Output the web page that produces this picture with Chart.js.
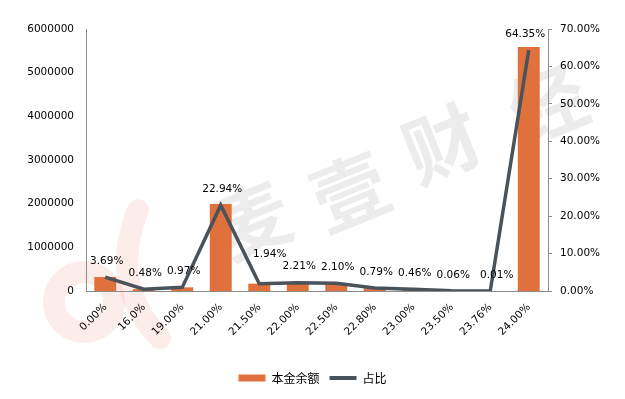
<!DOCTYPE html>
<html>
<head>
<meta charset="utf-8">
<script src="https://cdn.jsdelivr.net/npm/chart.js@4/dist/chart.umd.min.js"></script>
<style>
  html, body { margin: 0; padding: 0; background: #ffffff; }
  #wrap { width: 625px; height: 399px; position: relative; }
</style>
</head>
<body>
<div id="wrap"><canvas id="c" width="625" height="399"></canvas></div>
<script>
// ---- data ----
const categories = ['0.00%', '16.0%', '19.00%', '21.00%', '21.50%', '22.00%', '22.50%', '22.80%', '23.00%', '23.50%', '23.76%', '24.00%'];
const principal = [320000, 41600, 84000, 1990000, 168000, 192000, 182000, 68500, 40000, 5200, 870, 5585000];
const share = [3.69, 0.48, 0.97, 22.94, 1.94, 2.21, 2.10, 0.79, 0.46, 0.06, 0.01, 64.35];
const leftTicks = [0, 1000000, 2000000, 3000000, 4000000, 5000000, 6000000];
const rightTicks = [0, 10, 20, 30, 40, 50, 60, 70];
const seriesNames = ['本金余额', '占比'];
const watermarkChars = ['麦', '壹', '财', '经'];

const BAR_COLOR = '#E0703C';
const LINE_COLOR = '#4A535A';
const AXIS_COLOR = '#8C8C8C';
const NUM_FONT = 'DejaVu Sans';
// label placement tweaks (dx, dy) relative to the default "above" position
const LABEL_SHIFT = { 4: [9, -13], 10: [5, 0], 11: [-5, 0] };

const watermark = {
  id: 'watermark',
  beforeDraw(chart) {
    const ctx = chart.ctx;
    ctx.save();
    // pale logo
    ctx.strokeStyle = 'rgba(238,118,90,0.13)';
    ctx.lineCap = 'round';
    ctx.lineWidth = 22;
    ctx.beginPath();
    ctx.arc(84, 302, 30, 0, Math.PI * 2);
    ctx.stroke();
    ctx.beginPath();
    ctx.moveTo(138, 210);
    ctx.quadraticCurveTo(108, 285, 160, 338);
    ctx.stroke();
    // watermark text
    const pos = [[252, 220], [350, 192], [442, 144], [548, 104]];
    ctx.fillStyle = 'rgba(0,0,0,0.075)';
    ctx.font = 'bold 76px "Noto Sans CJK SC"';
    ctx.textAlign = 'center';
    ctx.textBaseline = 'middle';
    watermarkChars.forEach((ch, i) => {
      ctx.save();
      ctx.translate(pos[i][0], pos[i][1]);
      ctx.rotate(-22 * Math.PI / 180);
      ctx.fillText(ch, 0, 0);
      ctx.restore();
    });
    ctx.restore();
  }
};

const pointLabels = {
  id: 'pointLabels',
  afterDatasetsDraw(chart) {
    const ctx = chart.ctx;
    const meta = chart.getDatasetMeta(1);
    ctx.save();
    ctx.font = '10.5px "' + NUM_FONT + '"';
    ctx.fillStyle = '#000000';
    ctx.textAlign = 'center';
    ctx.textBaseline = 'middle';
    meta.data.forEach((pt, i) => {
      const v = chart.data.datasets[1].data[i];
      const s = LABEL_SHIFT[i] || [0, 0];
      ctx.fillText(v.toFixed(2) + '%', pt.x + 1.5 + s[0], pt.y - 16 + s[1]);
    });
    ctx.restore();
  }
};

new Chart(document.getElementById('c'), {
  data: {
    labels: categories,
    datasets: [
      {
        type: 'bar',
        label: seriesNames[0],
        data: principal,
        backgroundColor: BAR_COLOR,
        borderWidth: 0,
        yAxisID: 'y',
        order: 1,
        categoryPercentage: 1.0,
        barPercentage: 0.57
      },
      {
        type: 'line',
        label: seriesNames[1],
        data: share,
        borderColor: LINE_COLOR,
        backgroundColor: LINE_COLOR,
        borderWidth: 3.5,
        pointRadius: 0,
        tension: 0,
        yAxisID: 'y1',
        order: 0
      }
    ]
  },
  options: {
    responsive: false,
    animation: false,
    devicePixelRatio: 1,
    layout: { padding: { top: 29, left: 0, right: 0, bottom: 5 } },
    plugins: {
      tooltip: { enabled: false },
      legend: {
        position: 'bottom',
        labels: {
          color: '#000000',
          font: { family: '"Noto Sans CJK SC"', size: 12 },
          usePointStyle: true,
          pointStyleWidth: 27,
          boxHeight: 7,
          padding: 10,
          sort: (a, b) => a.datasetIndex - b.datasetIndex,
          generateLabels(chart) {
            return chart.data.datasets.map((ds, i) => ({
              text: ds.label,
              datasetIndex: i,
              fillStyle: ds.type === 'bar' ? BAR_COLOR : 'rgba(0,0,0,0)',
              strokeStyle: ds.type === 'bar' ? BAR_COLOR : LINE_COLOR,
              lineWidth: ds.type === 'bar' ? 0 : 4,
              pointStyle: ds.type === 'bar' ? 'rect' : 'line',
              hidden: false,
              fontColor: '#000000'
            }));
          }
        }
      }
    },
    scales: {
      x: {
        grid: { display: false, drawTicks: false },
        border: { display: true, color: AXIS_COLOR, width: 1 },
        ticks: {
          color: '#000000',
          font: { family: NUM_FONT, size: 10.5 },
          minRotation: 45,
          maxRotation: 45,
          padding: 10,
          autoSkip: false
        },
        afterFit(scale) { scale.height = 71; }
      },
      y: {
        position: 'left',
        min: 0,
        max: 6000000,
        afterBuildTicks(scale) { scale.ticks = leftTicks.map(v => ({ value: v })); },
        grid: { display: false, drawTicks: false },
        border: { display: true, color: AXIS_COLOR, width: 1 },
        ticks: {
          color: '#000000',
          font: { family: NUM_FONT, size: 10.5 },
          padding: 12,
          callback: v => String(v)
        },
        afterFit(scale) { scale.width = 86; }
      },
      y1: {
        position: 'right',
        min: 0,
        max: 70,
        afterBuildTicks(scale) { scale.ticks = rightTicks.map(v => ({ value: v })); },
        grid: { display: true, drawOnChartArea: false, drawTicks: true, tickLength: 4, color: AXIS_COLOR },
        border: { display: true, color: AXIS_COLOR, width: 1 },
        ticks: {
          color: '#000000',
          font: { family: NUM_FONT, size: 10.5 },
          padding: 8,
          callback: v => v.toFixed(2) + '%'
        },
        afterFit(scale) { scale.width = 77; }
      }
    }
  },
  plugins: [watermark, pointLabels]
});
</script>
</body>
</html>
